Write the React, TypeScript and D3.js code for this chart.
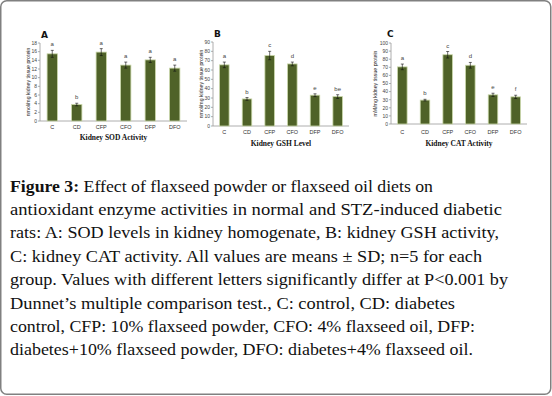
import React from "react";
import * as d3 from "d3";

const categories = ["C", "CD", "CFP", "CFO", "DFP", "DFO"];

const sodValues = [15.5, 3.8, 15.9, 12.9, 14.1, 12.2];
const sodErrors = [0.8, 0.3, 0.8, 0.7, 0.6, 0.7];
const sodLetters = ["a", "b", "a", "a", "a", "a"];
const sodTicks = [0, 2, 4, 6, 8, 10, 12, 14, 16, 18];

const gshValues = [65.5, 29, 75.5, 66.5, 33, 31.5];
const gshErrors = [3, 1.5, 4.5, 2, 1.5, 2];
const gshLetters = ["a", "b", "c", "d", "e", "be"];
const gshTicks = [0, 10, 20, 30, 40, 50, 60, 70, 80, 90];

const catValues = [70.5, 29.5, 85.5, 72.5, 36, 33.5];
const catErrors = [3.5, 1, 4, 3.5, 2, 2];
const catLetters = ["a", "b", "c", "d", "e", "f"];
const catTicks = [0, 10, 20, 30, 40, 50, 60, 70, 80, 90, 100];

const panelLetters = ["A", "B", "C"];
const panelTitles = ["Kidney SOD Activity", "Kidney GSH Level", "Kidney CAT Activity"];
const yTitles = [
  "nmol/mg kidney tissue protein",
  "nmol/mg kidney tissue protein",
  "mM/mg kidney tissue protein",
];

const captionBold = "Figure 3:";
const captionLines = [
  " Effect of flaxseed powder or flaxseed oil diets on",
  "antioxidant enzyme activities in normal and STZ-induced diabetic",
  "rats: A: SOD levels in kidney homogenate, B: kidney GSH activity,",
  "C: kidney CAT activity. All values are means \u00b1 SD; n=5 for each",
  "group. Values with different letters significantly differ at P<0.001 by",
  "Dunnet\u2019s multiple comparison test., C: control, CD: diabetes",
  "control, CFP: 10% flaxseed powder, CFO: 4% flaxseed oil, DFP:",
  "diabetes+10% flaxseed powder, DFO: diabetes+4% flaxseed oil.",
];

type PanelProps = {
  values: number[];
  errors: number[];
  letters: string[];
  ticks: number[];
  x0: number;
  x1: number;
  y0: number;
  yTop: number;
  letterIdx: number;
  titleY: number;
  catY: number;
  letterPos: [number, number];
  yTitleX: number;
};

function Panel(p: PanelProps) {
  const max = p.ticks[p.ticks.length - 1];
  const y = d3.scaleLinear().domain([0, max]).range([p.y0, p.yTop]);
  const x = d3.scaleBand<string>().domain(categories).range([p.x0, p.x1]).paddingInner(0).paddingOuter(0);
  const bw = x.bandwidth() * 0.42;
  const green = "#4f6228";
  return (
    <g>
      <text x={p.letterPos[0]} y={p.letterPos[1]} fontFamily="DejaVu Sans" fontWeight="bold" fontSize={9} fill="#111">
        {panelLetters[p.letterIdx]}
      </text>
      {/* y axis */}
      <line x1={p.x0} x2={p.x0} y1={y(0)} y2={y(max)} stroke="#999" strokeWidth={0.8} />
      {p.ticks.map((t) => (
        <g key={t}>
          <line x1={p.x0 - 2} x2={p.x0} y1={y(t)} y2={y(t)} stroke="#999" strokeWidth={0.8} />
          <text x={p.x0 - 3} y={y(t) + 1.8} textAnchor="end" fontFamily="Liberation Sans" fontSize={5} fill="#444">
            {t}
          </text>
        </g>
      ))}
      {/* x axis */}
      <line x1={p.x0} x2={p.x1} y1={y(0)} y2={y(0)} stroke="#999" strokeWidth={0.8} />
      {categories.map((c, i) => {
        const cx = (x(c) as number) + x.bandwidth() / 2;
        const v = p.values[i];
        const e = p.errors[i];
        return (
          <g key={c}>
            <rect x={cx - bw / 2} y={y(v)} width={bw} height={y(0) - y(v)} fill={green} stroke="#c9d6a8" strokeWidth={0.8} />
            <line x1={cx} x2={cx} y1={y(v - e)} y2={y(v + e)} stroke="#111" strokeWidth={0.6} />
            <line x1={cx - 1.5} x2={cx + 1.5} y1={y(v - e)} y2={y(v - e)} stroke="#111" strokeWidth={0.6} />
            <line x1={cx - 1.5} x2={cx + 1.5} y1={y(v + e)} y2={y(v + e)} stroke="#111" strokeWidth={0.6} />
            <text x={cx} y={y(v + e) - 4} textAnchor="middle" fontFamily="Liberation Sans" fontSize={6} fill="#444">
              {p.letters[i]}
            </text>
            <text x={cx} y={p.catY} textAnchor="middle" fontFamily="Liberation Sans" fontSize={5.5} fill="#333">
              {c}
            </text>
          </g>
        );
      })}
      <text
        transform={`translate(${p.yTitleX},${(y(0) + y(max)) / 2}) rotate(-90)`}
        textAnchor="middle"
        fontFamily="Liberation Sans"
        fontSize={5.2}
        fill="#222"
      >
        {yTitles[p.letterIdx]}
      </text>
      <text
        x={(p.x0 + p.x1) / 2}
        y={p.titleY}
        textAnchor="middle"
        fontFamily="Liberation Serif"
        fontWeight="bold"
        fontSize={7.5}
        fill="#111"
      >
        {panelTitles[p.letterIdx]}
      </text>
    </g>
  );
}

const lineEnds = [433, 502, 499, 482, 508, 455, 475, 473];

export default function App() {
  const baseline0 = 191.5;
  const lh = 23.4;
  return (
    <svg width={552} height={396} style={{ position: "absolute", left: 0, top: 0, background: "#fff" }}>
      <rect x={0.75} y={0.75} width={550} height={393.5} rx={6} fill="#fff" stroke="#808080" strokeWidth={1.5} />
      <Panel
        values={sodValues}
        errors={sodErrors}
        letters={sodLetters}
        ticks={sodTicks}
        x0={40}
        x1={187}
        y0={121}
        yTop={43}
        letterIdx={0}
        titleY={139.5}
        catY={129}
        letterPos={[41, 38]}
        yTitleX={30}
      />
      <Panel
        values={gshValues}
        errors={gshErrors}
        letters={gshLetters}
        ticks={gshTicks}
        x0={213}
        x1={349}
        y0={126}
        yTop={42}
        letterIdx={1}
        titleY={145.5}
        catY={134}
        letterPos={[214, 37]}
        yTitleX={203}
      />
      <Panel
        values={catValues}
        errors={catErrors}
        letters={catLetters}
        ticks={catTicks}
        x0={391}
        x1={527}
        y0={124}
        yTop={43}
        letterIdx={2}
        titleY={145.5}
        catY={134}
        letterPos={[387, 37]}
        yTitleX={377}
      />
      {captionLines.map((ln, i) => (
        <text
          key={i}
          x={10}
          y={baseline0 + i * lh}
          fontFamily="Liberation Serif"
          fontSize={17.5}
          fill="#111"
          textLength={lineEnds[i] - 10}
          lengthAdjust="spacingAndGlyphs"
        >
          {i === 0 ? (
            <>
              <tspan fontWeight="bold">{captionBold}</tspan>
              {ln}
            </>
          ) : (
            ln
          )}
        </text>
      ))}
    </svg>
  );
}
